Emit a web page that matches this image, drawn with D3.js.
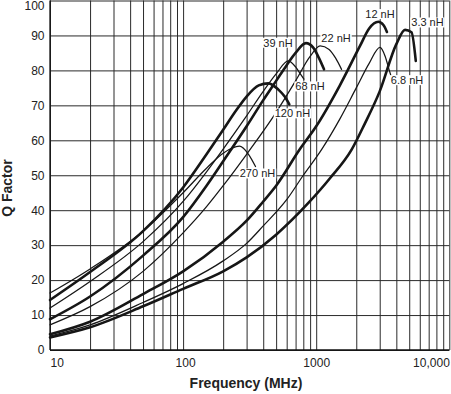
<!DOCTYPE html>
<html>
<head>
<meta charset="utf-8">
<script src="https://cdn.jsdelivr.net/npm/d3@7"></script>
<style>
  body { margin: 0; background: #fff; }
  text { font-family: "Liberation Sans", Arial, sans-serif; fill: #222; }
  .tick text { font-size: 12px; }
  .axisTitle { font-size: 14px; font-weight: bold; }
  .curveLabel { font-size: 11px; }
</style>
</head>
<body>
<div id="chart"></div>
<script>
// tick values / labels
var freqTicks = [10, 100, 1000, 10000];
var freqTickLabels = ['10', '100', '1000', '10,000'];
var qTicks = [0, 10, 20, 30, 40, 50, 60, 70, 80, 90, 100];

// Q vs frequency (MHz), one array per inductance
var q3_3nH = [[10, 3.6], [20, 6.5], [50, 12.5], [100, 17.5], [200, 22.5], [300, 26.5], [500, 33], [870, 42], [1260, 49], [1850, 57.4], [2300, 64.5], [3000, 74], [4000, 87.5], [4650, 91.6], [5200, 90.9], [5600, 82.7]];
var q6_8nH = [[10, 4], [20, 7.2], [50, 13.6], [100, 19], [200, 25.5], [300, 30.5], [400, 35.5], [600, 43], [800, 50], [1100, 57.4], [1500, 66], [2000, 75], [2500, 82], [3013, 86.6], [3300, 84], [3540, 80], [3710, 77.5]];
var q12nH = [[10, 4.5], [20, 8.1], [50, 16], [100, 22.5], [200, 31], [300, 37], [400, 42.5], [500, 47], [755, 57.5], [1000, 64], [1500, 75.6], [2134, 87], [2500, 92], [2930, 93.9], [3200, 93], [3400, 91]];
var q22nH = [[10, 7.2], [20, 12.4], [50, 22.5], [100, 33.5], [150, 41], [200, 47], [300, 56], [500, 68], [700, 77], [900, 84], [1070, 87], [1250, 86], [1400, 83.5], [1550, 80.3]];
var q39nH = [[10, 8.8], [20, 15.3], [50, 27], [100, 38], [150, 47], [200, 54], [300, 64], [400, 71.5], [500, 77], [600, 81.5], [700, 85], [837, 87.8], [950, 86.5], [1050, 83.5], [1145, 80.3]];
var q68nH = [[10, 12], [20, 19.6], [50, 31], [100, 42.5], [150, 51], [200, 57.5], [300, 67], [400, 74], [500, 79], [617, 82.7], [700, 81], [760, 79], [809, 77.5]];
var q120nH = [[10, 14.3], [20, 22.3], [50, 34], [100, 46.5], [150, 56], [200, 63], [250, 68.5], [300, 72.5], [370, 75.7], [437, 76.3], [520, 74.5], [580, 72.5], [628, 70.3]];
var q270nH = [[10, 16.3], [20, 23.2], [50, 34], [100, 45], [150, 52], [200, 56.3], [265, 58.3], [310, 56], [350, 52.5]];

var seriesNames = ['3.3 nH', '6.8 nH', '12 nH', '22 nH', '39 nH', '68 nH', '120 nH', '270 nH'];
var seriesValues = [q3_3nH, q6_8nH, q12nH, q22nH, q39nH, q68nH, q120nH, q270nH];

var svgWidth = 451;
var svgHeight = 394;
var plot = {left: 50, right: 449.3, top: 0.5, bottom: 350};

var svg = d3.select('#chart')
    .append('svg')
    .attr('width', svgWidth)
    .attr('height', svgHeight);

var xScale = d3.scaleLog()
    .domain([10, 10000])
    .range([plot.left, plot.right]);

var yScale = d3.scaleLinear()
    .domain([0, 100])
    .range([plot.bottom, plot.top]);

// minor grid values 10,20..90,100,200..
var gridFreqs = [];
[10, 100, 1000].forEach(function(d) {
    for (var k = 1; k < 10; k++) gridFreqs.push(d * k);
});
gridFreqs.push(10000);

var plotH = plot.bottom - plot.top;
var plotW = plot.right - plot.left;

// vertical grid
var xGrid = svg.append('g')
    .attr('transform', `translate(0, ${plot.bottom})`)
    .call(d3.axisBottom(xScale).tickValues(gridFreqs).tickSize(-plotH).tickFormat(''));
xGrid.select('.domain').remove();
xGrid.selectAll('.tick line').attr('stroke', '#2a2a2a');

// horizontal grid
var yGrid = svg.append('g')
    .attr('transform', `translate(${plot.left}, 0)`)
    .call(d3.axisLeft(yScale).tickValues(qTicks).tickSize(-plotW).tickFormat(''));
yGrid.select('.domain').remove();
yGrid.selectAll('.tick line').attr('stroke', '#2a2a2a');

// y tick labels
var yAxis = svg.append('g')
    .attr('transform', `translate(${plot.left}, 0)`)
    .call(d3.axisLeft(yScale).tickValues(qTicks).tickSize(0).tickPadding(5.5));
yAxis.select('.domain').remove();
// top label pushed down so it stays inside the page
yAxis.selectAll('.tick text')
    .filter(d => d === 100)
    .attr('dy', '0.75em');

// x tick labels
var xAxis = svg.append('g')
    .attr('transform', `translate(0, ${plot.bottom})`)
    .call(d3.axisBottom(xScale).tickValues(freqTicks).tickSize(0).tickPadding(8)
        .tickFormat(function(d, i) { return freqTickLabels[i]; }));
xAxis.select('.domain').remove();
xAxis.selectAll('.tick text')
    .attr('text-anchor', function(d, i) {
        if (i === 0) return 'start';
        if (i === freqTicks.length - 1) return 'end';
        return 'middle';
    })
    .attr('dx', function(d, i) { return (i === 1) ? 2 : 0; });

// frame
svg.append('line')
    .attr('x1', plot.left).attr('x2', plot.left)
    .attr('y1', plot.top).attr('y2', plot.bottom)
    .attr('stroke', '#111').attr('stroke-width', 1.3);
svg.append('line')
    .attr('x1', plot.left).attr('x2', plot.right)
    .attr('y1', plot.bottom).attr('y2', plot.bottom)
    .attr('stroke', '#111').attr('stroke-width', 1.3);

// curves
var thickSeries = {'3.3 nH': true, '12 nH': true, '39 nH': true, '120 nH': true};

var line = d3.line()
    .x(d => xScale(d[0]))
    .y(d => yScale(d[1]))
    .curve(d3.curveMonotoneX);

svg.selectAll('path.qcurve')
    .data(seriesValues)
    .enter()
    .append('path')
    .attr('class', 'qcurve')
    .attr('d', line)
    .attr('fill', 'none')
    .attr('stroke', '#161616')
    .attr('stroke-linecap', 'round')
    .attr('stroke-width', (d, i) => thickSeries[seriesNames[i]] ? 2.6 : 1.25);

// curve labels (centre in data coords)
var labelAt = {
    '12 nH': [3013, 96.1],
    '3.3 nH': [6855, 93.7],
    '22 nH': [1409, 89.4],
    '39 nH': [516, 87.9],
    '68 nH': [898, 75.4],
    '120 nH': [663, 67.7],
    '270 nH': [362, 50.5],
    '6.8 nH': [4810, 77.2]
};

seriesNames.forEach(function(name) {
    var p = labelAt[name];
    var g = svg.append('g')
        .attr('transform', `translate(${xScale(p[0])}, ${yScale(p[1])})`);
    var t = g.append('text')
        .attr('class', 'curveLabel')
        .attr('text-anchor', 'middle')
        .attr('dy', '0.36em')
        .text(name);
    var bb = t.node().getBBox();
    g.insert('rect', 'text')
        .attr('x', bb.x - 1)
        .attr('y', bb.y + 1)
        .attr('width', bb.width + 2)
        .attr('height', bb.height - 2)
        .attr('fill', '#fff');
});

// axis titles
svg.append('text')
    .attr('class', 'axisTitle')
    .attr('text-anchor', 'middle')
    .attr('transform', `translate(12, 188) rotate(-90)`)
    .text('Q Factor');

svg.append('text')
    .attr('class', 'axisTitle')
    .attr('text-anchor', 'middle')
    .attr('x', 246)
    .attr('y', 388)
    .text('Frequency (MHz)');
</script>
</body>
</html>
